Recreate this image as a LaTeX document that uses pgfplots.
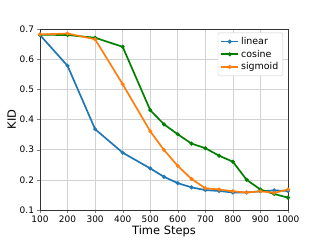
\documentclass[border=0pt]{standalone}
\usepackage{fontspec}
\setmainfont{DejaVu Sans}
\usepackage{pgfplots}
\pgfplotsset{compat=1.18}
\definecolor{tblue}{HTML}{1F77B4}
\definecolor{tgreen}{HTML}{008000}
\definecolor{torange}{HTML}{FF7F0E}
\begin{document}
\begin{tikzpicture}[x=1bp,y=1bp]
\path[use as bounding box] (0,0) rectangle (320,240);
\begin{axis}[
  at={(40bp,30bp)}, anchor=south west,
  scale only axis, width=248bp, height=181bp,
  xmin=100, xmax=1000, ymin=0.1, ymax=0.7,
  xtick={100,200,...,1000}, ytick={0.1,0.2,0.3,0.4,0.5,0.6,0.7},
  yticklabel style={/pgf/number format/fixed,/pgf/number format/precision=1,/pgf/number format/fixed zerofill},
  /pgf/number format/assume math mode=true,
  xticklabel style={/pgf/number format/1000 sep={}},
  tick label style={font=\fontsize{9}{10}\selectfont},
  label style={font=\fontsize{11.5}{13}\selectfont},
  xlabel={Time Steps}, ylabel={KID},
  xlabel style={yshift=4bp}, ylabel style={yshift=-3bp},
  grid=major, grid style={gray!35, line width=0.6pt},
  axis line style={black!80, line width=0.6pt},
  tick align=outside, tick pos=left, major tick length=2.5bp,
  legend style={at={(0.98,0.98)}, anchor=north east, font=\fontsize{9.5}{11}\selectfont, draw=black!20, rounded corners=1.5pt, inner sep=2.5pt, row sep=0pt},
  legend image post style={},
  legend image code/.code={\draw[#1, mark repeat=2, mark phase=2] plot coordinates {(0cm,0cm) (0.3cm,0cm) (0.6cm,0cm)};},
  legend cell align=left,
  every axis plot/.append style={line width=1.7pt, mark=*, mark size=1pt},
]
\addplot[color=tblue] coordinates {(100,0.68)(200,0.578)(300,0.368)(400,0.29)(500,0.238)(550,0.21)(600,0.189)(650,0.175)(700,0.166)(750,0.163)(800,0.158)(850,0.158)(900,0.162)(950,0.165)(1000,0.163)};
\addlegendentry{linear}
\addplot[color=tgreen] coordinates {(100,0.681)(200,0.68)(300,0.671)(400,0.641)(500,0.431)(550,0.384)(600,0.351)(650,0.32)(700,0.305)(750,0.28)(800,0.26)(850,0.2)(900,0.168)(950,0.153)(1000,0.141)};
\addlegendentry{cosine}
\addplot[color=torange] coordinates {(100,0.682)(200,0.685)(300,0.666)(400,0.517)(500,0.361)(550,0.299)(600,0.246)(650,0.203)(700,0.172)(750,0.168)(800,0.162)(850,0.158)(900,0.162)(950,0.157)(1000,0.168)};
\addlegendentry{sigmoid}
\end{axis}
\end{tikzpicture}
\end{document}
